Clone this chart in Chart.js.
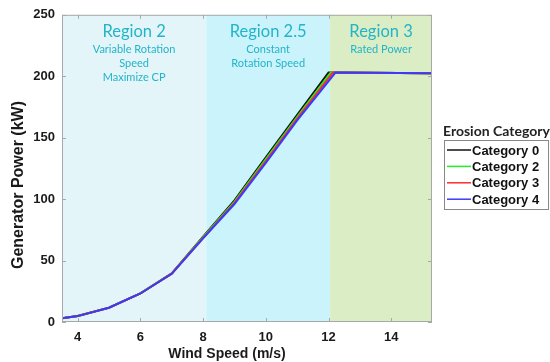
<!DOCTYPE html>
<html><head><meta charset="utf-8">
<script src="https://cdn.jsdelivr.net/npm/chart.js@4.4.1/dist/chart.umd.min.js"></script>
<style>html,body{margin:0;padding:0;background:#fff}#wrap{width:550px;height:362px;position:relative}</style>
</head><body><div id="wrap"><canvas id="c" width="550" height="362"></canvas></div>
<script>
// ---- data ----
const cat0Wind  = [3.5, 4, 5, 6, 7, 8, 9, 10, 11, 12.0, 15.3];
const cat0Power = [3.0, 4.9, 11.7, 23.3, 39.5, 69.5, 99, 134, 168.5, 203, 202.5];
const cat2Wind  = [3.5, 4, 5, 6, 7, 8, 9, 10, 11, 12.07, 15.3];
const cat2Power = [3.0, 4.9, 11.7, 23.3, 39.4, 69, 98, 132.5, 167, 203, 202.5];
const cat3Wind  = [3.5, 4, 5, 6, 7, 8, 9, 10, 11, 12.14, 15.3];
const cat3Power = [3.0, 4.9, 11.6, 23.2, 39.3, 68.5, 97, 131, 165.5, 203, 202.5];
const cat4Wind  = [3.5, 4, 5, 6, 7, 8, 9, 10, 11, 12.22, 15.3];
const cat4Power = [3.0, 4.8, 11.6, 23.2, 39.2, 68, 96, 129.5, 164, 203, 202.5];
const seriesNames = ['Category 0', 'Category 2', 'Category 3', 'Category 4'];
const xTicks = [4, 6, 8, 10, 12, 14];
const yTicks = [0, 50, 100, 150, 200, 250];
const regionBounds = [3.5, 8.1, 12.05, 15.3];
const regionTitles = ['Region 2', 'Region 2.5', 'Region 3'];
const regionNotes = [['Variable Rotation', 'Speed', 'Maximize CP'], ['Constant', 'Rotation Speed'], ['Rated Power']];
const legendTitle = 'Erosion Category';
const xTitle = 'Wind Speed (m/s)';
const yTitle = 'Generator Power (kW)';

// ---- styles ----
const colors = ['#111111', '#22ee22', '#ff2a2a', '#3a3aff'];
const regionFills = ['#e3f5f9', '#cbf3fc', '#daedc5'];
const regionText = '#22b4c9';

function pts(xs, ys) { return xs.map((x, i) => ({x: x, y: ys[i]})); }
const winds = [cat0Wind, cat2Wind, cat3Wind, cat4Wind];
const powers = [cat0Power, cat2Power, cat3Power, cat4Power];

const datasets = seriesNames.map((n, i) => ({
  label: n, data: pts(winds[i], powers[i]), borderColor: colors[i], backgroundColor: colors[i],
  borderWidth: 2, pointRadius: 0, tension: 0, fill: false, order: 3 - i
}));

const deco = {
  id: 'deco',
  beforeDatasetsDraw(chart) {
    const {ctx, chartArea: a, scales: {x, y}} = chart;
    ctx.save();
    for (let i = 0; i < 3; i++) {
      const x0 = x.getPixelForValue(regionBounds[i]), x1 = x.getPixelForValue(regionBounds[i + 1]);
      ctx.fillStyle = regionFills[i];
      ctx.fillRect(x0, a.top, x1 - x0, a.bottom - a.top);
    }
    // region labels
    ctx.fillStyle = regionText;
    ctx.textAlign = 'center';
    ctx.textBaseline = 'middle';
    for (let i = 0; i < 3; i++) {
      const cx = (x.getPixelForValue(regionBounds[i]) + x.getPixelForValue(regionBounds[i + 1])) / 2;
      ctx.font = '16.5px Lato';
      ctx.fillText(regionTitles[i], cx, a.top + 17);
      ctx.font = '11px Lato';
      regionNotes[i].forEach((t, k) => ctx.fillText(t, cx, a.top + 35 + k * 14));
    }
    ctx.restore();
  },
  afterDraw(chart) {
    const {ctx, chartArea: a, scales: {x, y}} = chart;
    ctx.save();
    ctx.strokeStyle = '#a8a8a8';
    ctx.lineWidth = 1;
    ctx.strokeRect(a.left + 0.5, a.top + 0.5, a.right - a.left - 1, a.bottom - a.top - 1);
    ctx.beginPath();
    xTicks.forEach(v => {
      const px = Math.round(x.getPixelForValue(v)) + 0.5;
      ctx.moveTo(px, a.bottom); ctx.lineTo(px, a.bottom - 4);
      ctx.moveTo(px, a.top); ctx.lineTo(px, a.top + 4);
    });
    yTicks.forEach(v => {
      const py = Math.round(y.getPixelForValue(v)) + 0.5;
      ctx.moveTo(a.left, py); ctx.lineTo(a.left + 4, py);
      ctx.moveTo(a.right, py); ctx.lineTo(a.right - 4, py);
    });
    ctx.stroke();
    // axis titles
    ctx.fillStyle = '#1a1a1a';
    ctx.textAlign = 'center';
    ctx.textBaseline = 'middle';
    ctx.font = 'bold 14px "Liberation Sans"';
    ctx.fillText(xTitle, 227, 354);
    ctx.save();
    ctx.translate(19, 185);
    ctx.rotate(-Math.PI / 2);
    ctx.font = 'bold 16px "Liberation Sans"';
    ctx.fillText(yTitle, 0, 0);
    ctx.restore();
    // legend
    const lx = 444, ly = 140, lw = 104, lh = 69;
    ctx.textAlign = 'left';
    ctx.font = 'bold 14px Lato';
    ctx.fillStyle = '#222';
    ctx.fillText(legendTitle, 443, 131);
    ctx.fillStyle = '#fff';
    ctx.fillRect(lx, ly, lw, lh);
    ctx.strokeStyle = '#888';
    ctx.strokeRect(lx + 0.5, ly + 0.5, lw, lh);
    ctx.font = 'bold 13px "Liberation Sans"';
    chart.data.datasets.forEach((d, i) => {
      const ry = 150 + i * 16.4;
      ctx.strokeStyle = d.borderColor;
      ctx.lineWidth = 1.5;
      ctx.beginPath(); ctx.moveTo(447, ry); ctx.lineTo(471, ry); ctx.stroke();
      ctx.fillStyle = '#111';
      ctx.fillText(d.label, 472, ry + 1);
    });
    ctx.restore();
  }
};

const tickFont = {family: '"Liberation Sans"', size: 13, weight: 'bold'};
new Chart(document.getElementById('c'), {
  type: 'line',
  data: {datasets: datasets},
  plugins: [deco],
  options: {
    responsive: false, animation: false, maintainAspectRatio: false,
    layout: {padding: {top: 13, right: 118, left: 0, bottom: 0}},
    plugins: {legend: {display: false}, tooltip: {enabled: false}},
    scales: {
      x: {
        type: 'linear', min: 3.5, max: 15.3,
        grid: {display: false, drawTicks: false}, border: {display: false},
        afterBuildTicks: s => { s.ticks = xTicks.map(v => ({value: v})); },
        afterFit: s => { s.height = 40; },
        ticks: {font: tickFont, color: '#1a1a1a', padding: 8, maxRotation: 0, autoSkip: false}
      },
      y: {
        type: 'linear', min: 0, max: 250,
        grid: {display: false, drawTicks: false}, border: {display: false},
        afterBuildTicks: s => { s.ticks = yTicks.map(v => ({value: v})); },
        afterFit: s => { s.width = 62; },
        ticks: {font: tickFont, color: '#1a1a1a', padding: 7}
      }
    }
  }
});
</script>
</body></html>
